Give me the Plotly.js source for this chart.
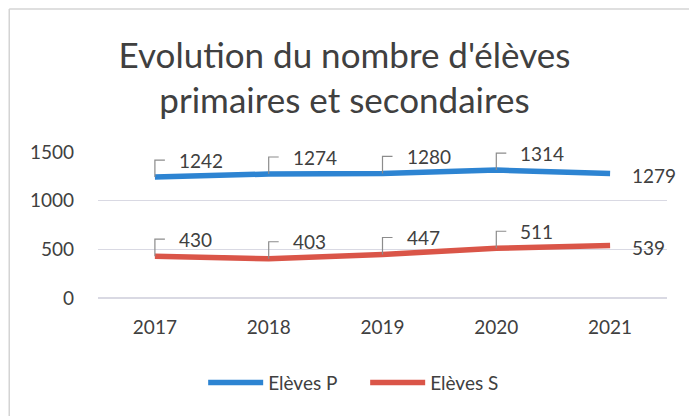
<!DOCTYPE html>
<html>
<head>
<meta charset="utf-8">
<script src="https://cdn.plot.ly/plotly-3.0.1.min.js"></script>
<style>html,body{margin:0;padding:0;background:#fff}#chart{width:689px;height:416px}#chart text{font-variant-ligatures:none}</style>
</head>
<body>
<div id="chart"></div>
<script>
var years = ['2017', '2018', '2019', '2020', '2021'];
var elevesP = [1242, 1274, 1280, 1314, 1279];
var elevesS = [430, 403, 447, 511, 539];
var seriesNames = ['Elèves P', 'Elèves S'];
var titleText = "Evolution du nombre d'élèves<br>primaires et secondaires";
var yTicks = [0, 500, 1000, 1500];

var FONT = 'Lato, "Open Sans", sans-serif';
var TXT = '#404040';
var blue = '#2d84d2';
var red = '#da5548';

var traces = [
  {x: years, y: elevesP, name: seriesNames[0], type: 'scatter', mode: 'lines',
   line: {color: blue, width: 5.5}},
  {x: years, y: elevesS, name: seriesNames[1], type: 'scatter', mode: 'lines',
   line: {color: red, width: 5.5}}
];

var annotations = [];
var shapes = [];
function addLabels(vals) {
  vals.forEach(function (v, i) {
    var last = i === vals.length - 1;
    if (last) {
      annotations.push({x: i, y: v, xref: 'x', yref: 'y', text: String(v),
        showarrow: false, xanchor: 'left', yanchor: 'middle', xshift: 20, yshift: -2,
        font: {family: FONT, size: 19, color: TXT}});
    } else {
      annotations.push({x: i, y: v, xref: 'x', yref: 'y', text: String(v),
        showarrow: false, xanchor: 'left', yanchor: 'middle', xshift: 22, yshift: 17,
        font: {family: FONT, size: 19, color: TXT}});
      shapes.push({type: 'path', xref: 'x', yref: 'y', xsizemode: 'pixel', ysizemode: 'pixel',
        xanchor: i, yanchor: v, path: 'M0,0 L0,17 L10,17',
        line: {color: '#8c8c8c', width: 1.2}});
    }
  });
}
addLabels(elevesP);
addLabels(elevesS);

// faint chart border (top + left), as in the scanned reference
shapes.push({type: 'line', xref: 'paper', yref: 'paper', x0: -0.156, x1: 1.04, y0: 1.979, y1: 1.979,
  line: {color: '#d4d4d4', width: 1.5}, layer: 'below'});
shapes.push({type: 'line', xref: 'paper', yref: 'paper', x0: -0.156, x1: -0.156, y0: 1.979, y1: -0.81,
  line: {color: '#d4d4d4', width: 1.5}, layer: 'below'});

var layout = {
  width: 689, height: 416,
  margin: {l: 98, r: 22, t: 152, b: 118, autoexpand: false},
  paper_bgcolor: '#ffffff', plot_bgcolor: '#ffffff',
  font: {family: FONT, color: TXT},
  title: {text: titleText, x: 0.5, xanchor: 'center', y: 0.837, yref: 'container', yanchor: 'middle',
          font: {family: FONT, size: 35, color: '#404040'}},
  xaxis: {type: 'category', range: [-0.5, 4.5], showgrid: false, zeroline: false,
          showline: false, ticks: '', tickfont: {family: FONT, size: 19, color: TXT},
          ticklabelstandoff: 16},
  yaxis: {range: [0, 1500], tickvals: yTicks, ticktext: yTicks.map(String),
          showgrid: true, gridcolor: '#d9d9e3', gridwidth: 1.2,
          zeroline: true, zerolinecolor: '#d9d9e3', zerolinewidth: 1.2,
          showline: false, ticks: '', tickfont: {family: FONT, size: 19, color: TXT},
          ticklabelstandoff: 23},
  showlegend: true,
  legend: {orientation: 'h', x: 0.530, xanchor: 'center', xref: 'container',
           y: 0.08, yref: 'container', yanchor: 'middle',
           entrywidth: 92, entrywidthmode: 'pixels',
           itemwidth: 55, font: {family: FONT, size: 19, color: TXT}, bgcolor: 'rgba(0,0,0,0)'},
  annotations: annotations,
  shapes: shapes
};

Plotly.newPlot('chart', traces, layout, {displayModeBar: false, staticPlot: true});
</script>
</body>
</html>
